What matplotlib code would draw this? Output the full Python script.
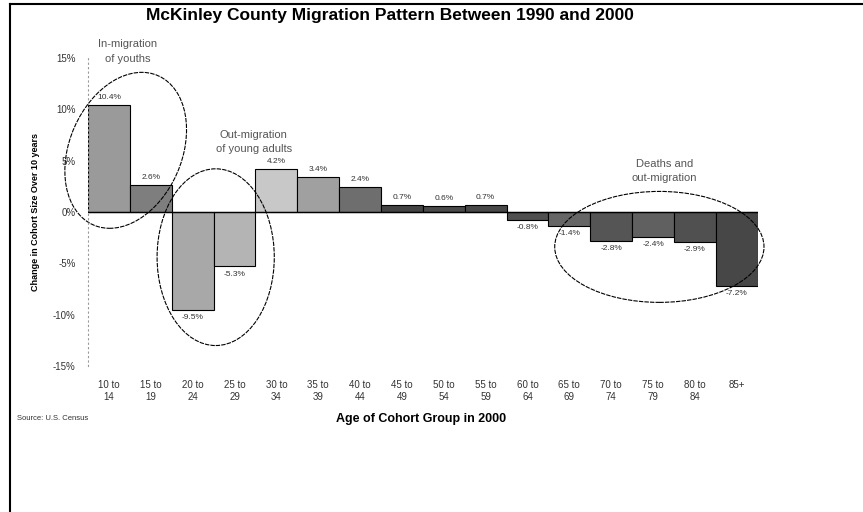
import matplotlib.pyplot as plt
from matplotlib.patches import Ellipse
from matplotlib.lines import Line2D

plt.rcParams['font.family'] = ['Liberation Sans', 'DejaVu Sans']

# data
age_groups = ["10 to\n14", "15 to\n19", "20 to\n24", "25 to\n29", "30 to\n34", "35 to\n39",
              "40 to\n44", "45 to\n49", "50 to\n54", "55 to\n59", "60 to\n64", "65 to\n69",
              "70 to\n74", "75 to\n79", "80 to\n84", "85+"]
change_pct = [10.4, 2.6, -9.5, -5.3, 4.2, 3.4, 2.4, 0.7, 0.6, 0.7,
              -0.8, -1.4, -2.8, -2.4, -2.9, -7.2]
bar_grays = ["#9a9a9a", "#7e7e7e", "#a8a8a8", "#b4b4b4", "#c8c8c8", "#a0a0a0",
             "#6e6e6e", "#444444", "#4a4a4a", "#484848", "#505050", "#666666",
             "#555555", "#606060", "#505050", "#474747"]
y_ticks = [15, 10, 5, 0, -5, -10, -15]

fig = plt.figure(figsize=(8.63, 5.12), dpi=100)
ax = fig.add_axes([0.102, 0.285, 0.776, 0.602])

x = range(len(change_pct))
ax.bar(x, change_pct, width=1.0, color=bar_grays, edgecolor="black", linewidth=0.8)
ax.axhline(0, color="black", linewidth=1)

# value labels
for i, v in enumerate(change_pct):
    if v >= 0:
        ax.text(i, v + 0.4, f"{v:.1f}%", ha="center", va="bottom", fontsize=6, color="#333333")
    else:
        ax.text(i, v - 0.4, f"{v:.1f}%", ha="center", va="top", fontsize=6, color="#333333")

ax.set_xlim(-0.5, 15.5)
ax.set_ylim(-15, 15)
ax.set_yticks(y_ticks)
ax.set_yticklabels([f"{t}%" for t in y_ticks], fontsize=7, color="#333333")
ax.set_xticks(list(x))
ax.set_xticklabels(age_groups, fontsize=7, color="#333333", linespacing=1.3)
ax.tick_params(length=0, pad=9, axis="y")
ax.tick_params(length=0, pad=10, axis="x")
for s in ["top", "right", "bottom"]:
    ax.spines[s].set_visible(False)
ax.spines["left"].set_linestyle((0, (1, 3)))
ax.spines["left"].set_color("#999999")
ax.spines["left"].set_linewidth(0.8)

ax.set_ylabel("Change in Cohort Size Over 10 years", fontsize=6.5, fontweight="bold")
ax.yaxis.set_label_coords(-0.072, 0.5)

# circled groups
ell_style = dict(fill=False, edgecolor="black", linewidth=0.8, linestyle=(0, (4, 1)), clip_on=False)
ax.add_patch(Ellipse((0.4, 6.0), 2.8, 15.2, angle=-3, **ell_style))
ax.add_patch(Ellipse((2.55, -4.4), 2.8, 17.2, **ell_style))
ax.add_patch(Ellipse((13.15, -3.4), 5.0, 10.8, **ell_style))

note_style = dict(fontsize=8, color="#555555", ha="center", va="center",
                  linespacing=1.55, clip_on=False)
ax.text(0.45, 15.6, "In-migration\nof youths", **note_style)
ax.text(3.46, 6.8, "Out-migration\nof young adults", **note_style)
ax.text(13.27, 3.97, "Deaths and\nout-migration", **note_style)

fig.text(0.452, 0.97, "McKinley County Migration Pattern Between 1990 and 2000",
         ha="center", va="center", fontsize=12.5, fontweight="bold")
fig.text(0.488, 0.182, "Age of Cohort Group in 2000", ha="center", va="center",
         fontsize=9, fontweight="bold")
fig.text(0.02, 0.183, "Source: U.S. Census", ha="left", va="center", fontsize=5.5, color="#333333")

# outer frame (left and top edges)
fig.add_artist(Line2D([0.012, 0.012], [0.0, 0.992], color="black", linewidth=1.5))
fig.add_artist(Line2D([0.012, 1.0], [0.992, 0.992], color="black", linewidth=1.5))

fig.savefig("out.png", dpi=100)
